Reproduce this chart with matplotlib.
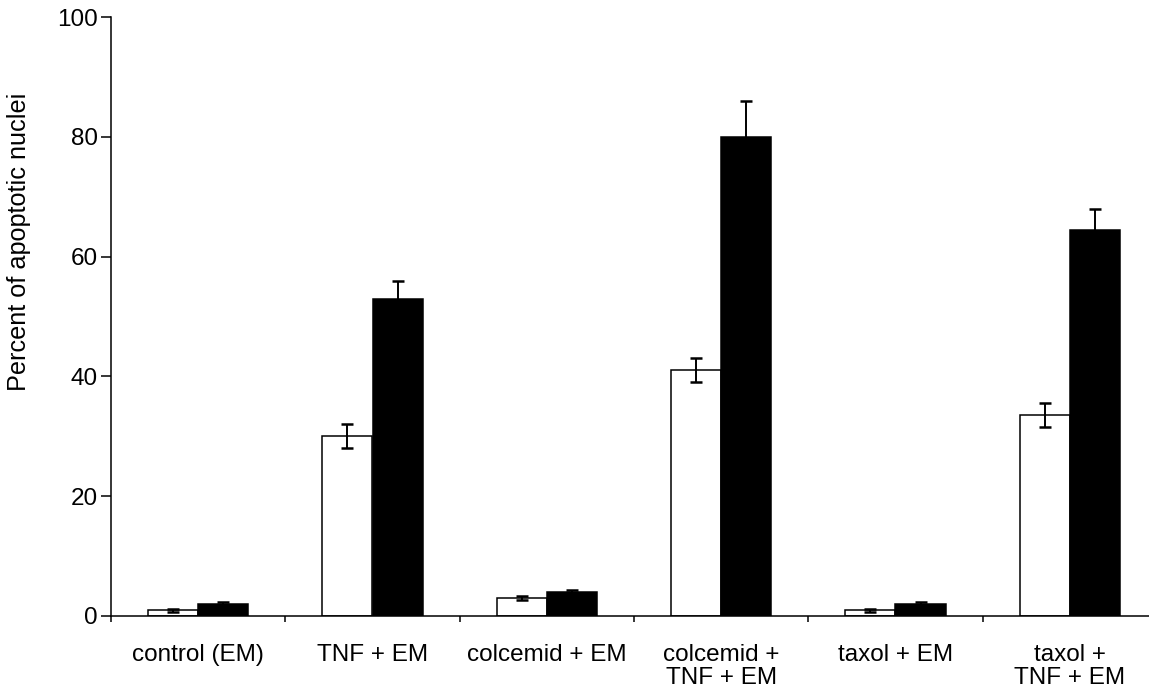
import numpy as np
import matplotlib
matplotlib.use('Agg')
import matplotlib.pyplot as plt

plt.rcParams['font.family'] = ['Liberation Sans', 'DejaVu Sans']

# data
categories = ['control (EM)', 'TNF + EM', 'colcemid + EM',
              'colcemid +\nTNF + EM', 'taxol + EM', 'taxol +\nTNF + EM']
white_vals = [1.0, 30.0, 3.0, 41.0, 1.0, 33.5]
white_err = [0.25, 2.0, 0.3, 2.0, 0.25, 2.0]
black_vals = [2.0, 53.0, 4.0, 80.0, 2.0, 64.4]
black_err = [0.3, 3.0, 0.3, 6.0, 0.3, 3.5]

W, H = 1149, 694
fig = plt.figure(figsize=(W / 100, H / 100), dpi=100)
ax = fig.add_axes([111 / W, 78 / H, (1157 - 111) / W, (616 - 17) / H])

x = np.arange(len(categories))
bw = 0.287
ax.bar(x - bw / 2, white_vals, bw, color='white', edgecolor='black', linewidth=1.1, zorder=2)
ax.bar(x + bw / 2, black_vals, bw, color='black', edgecolor='black', linewidth=1.1, zorder=2)
ax.errorbar(x - bw / 2, white_vals, yerr=white_err, fmt='none', ecolor='black',
            elinewidth=1.4, capsize=4, capthick=1.8, zorder=3)
ax.errorbar(x + bw / 2, black_vals, yerr=black_err, fmt='none', ecolor='black',
            elinewidth=1.4, capsize=4, capthick=1.8, zorder=3)

ax.set_xlim(-0.5, len(categories) - 0.5)
ax.set_ylim(0, 100)
ax.set_yticks([0, 20, 40, 60, 80, 100])

for s in ['top', 'right']:
    ax.spines[s].set_visible(False)
for s in ['left', 'bottom']:
    ax.spines[s].set_linewidth(1.1)

ax.tick_params(axis='y', direction='out', length=7.5, width=1.1, pad=2, labelsize=17.5)
ax.set_xticks(x)
ax.set_xticklabels(categories, fontsize=17.5, linespacing=1.1)
ax.tick_params(axis='x', which='major', length=0, pad=20)
ax.set_xticks(np.arange(len(categories) + 1) - 0.5, minor=True)
ax.tick_params(axis='x', which='minor', direction='out', length=4.5, width=1.1)

fig.text(19 / W, 1 - 242 / H, 'Percent of apoptotic nuclei', rotation=90,
         ha='center', va='center', fontsize=18.2)

fig.savefig('out.png', dpi=100)
